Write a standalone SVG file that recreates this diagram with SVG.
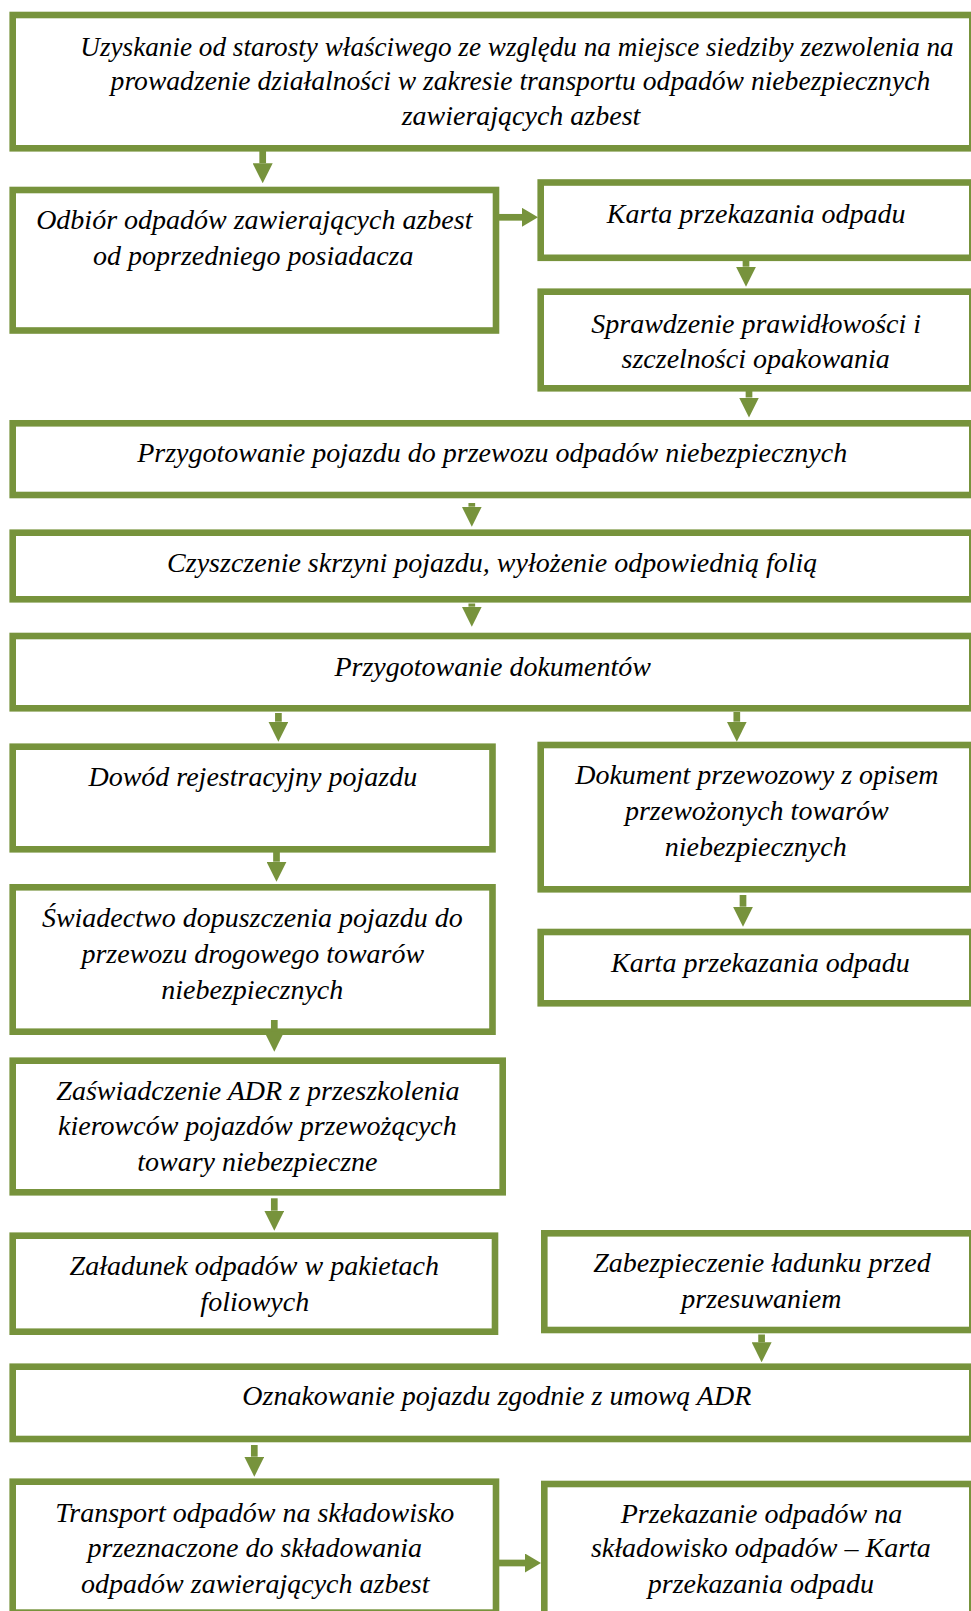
<svg xmlns="http://www.w3.org/2000/svg" width="971" height="1611" viewBox="0 0 971 1611">
  <style>
    .box { fill: #ffffff; stroke: #77933C; stroke-width: 6.6; }
    .lbl { font-family: "Liberation Serif", "Times New Roman", serif; font-style: italic; font-size: 28px; fill: #000000; text-anchor: middle; }
    .conn { stroke: #77933C; stroke-width: 6.7; fill: none; }
  </style>
  <defs>
    <marker id="head" markerUnits="userSpaceOnUse" markerWidth="20" markerHeight="20" refX="0" refY="10" orient="auto">
      <path d="M0,0 L20,10 L0,20 Z" fill="#77933C"/>
    </marker>
    <marker id="head-s" markerUnits="userSpaceOnUse" markerWidth="16" markerHeight="20" refX="0" refY="9.5" orient="auto">
      <path d="M0,0 L16,9.5 L0,19 Z" fill="#77933C"/>
    </marker>
  </defs>
  <rect width="971" height="1611" fill="#ffffff"/>

  <g id="n1">
    <rect class="box" x="12.7" y="15" width="959.6" height="133.3"/>
    <text class="lbl" x="517" y="55.5" style="font-size:27.2px">Uzyskanie od starosty właściwego ze względu na miejsce siedziby zezwolenia na</text>
    <text class="lbl" x="520.4" y="90" style="font-size:27.6px">prowadzenie działalności w zakresie transportu odpadów niebezpiecznych</text>
    <text class="lbl" x="521" y="125">zawierających azbest</text>
  </g>
  <g id="n2">
    <rect class="box" x="12.7" y="190" width="483.3" height="140.5"/>
    <text class="lbl" x="254.3" y="229.3">Odbiór odpadów zawierających azbest</text>
    <text class="lbl" x="253.3" y="265">od poprzedniego posiadacza</text>
  </g>
  <g id="n3">
    <rect class="box" x="540.7" y="182.5" width="431.6" height="75.3"/>
    <text class="lbl" x="756.2" y="222.7">Karta przekazania odpadu</text>
  </g>
  <g id="n4">
    <rect class="box" x="540.7" y="291.7" width="431.6" height="96.6"/>
    <text class="lbl" x="756.2" y="332.7">Sprawdzenie prawidłowości i</text>
    <text class="lbl" x="755.7" y="367.6">szczelności opakowania</text>
  </g>
  <g id="n5">
    <rect class="box" x="12.7" y="423.3" width="959.6" height="71.7"/>
    <text class="lbl" x="492.2" y="462.3">Przygotowanie pojazdu do przewozu odpadów niebezpiecznych</text>
  </g>
  <g id="n6">
    <rect class="box" x="12.7" y="532.7" width="959.6" height="66.6"/>
    <text class="lbl" x="492.2" y="572.1">Czyszczenie skrzyni pojazdu, wyłożenie odpowiednią folią</text>
  </g>
  <g id="n7">
    <rect class="box" x="12.7" y="636" width="959.6" height="72.3"/>
    <text class="lbl" x="492.7" y="675.8">Przygotowanie dokumentów</text>
  </g>
  <g id="n8">
    <rect class="box" x="12.7" y="746.7" width="479.8" height="102.6"/>
    <text class="lbl" x="252.8" y="785.8">Dowód rejestracyjny pojazdu</text>
  </g>
  <g id="n9">
    <rect class="box" x="540.7" y="745" width="431.6" height="144.3"/>
    <text class="lbl" x="756.8" y="783.7">Dokument przewozowy z opisem</text>
    <text class="lbl" x="756.8" y="819.7">przewożonych towarów</text>
    <text class="lbl" x="755.7" y="855.7">niebezpiecznych</text>
  </g>
  <g id="n10">
    <rect class="box" x="12.7" y="887.3" width="479.8" height="144.4"/>
    <text class="lbl" x="252.3" y="926.6">Świadectwo dopuszczenia pojazdu do</text>
    <text class="lbl" x="252.8" y="962.5">przewozu drogowego towarów</text>
    <text class="lbl" x="252.3" y="998.5">niebezpiecznych</text>
  </g>
  <g id="n11">
    <rect class="box" x="540.7" y="932" width="431.6" height="71.3"/>
    <text class="lbl" x="760.4" y="971.8">Karta przekazania odpadu</text>
  </g>
  <g id="n12">
    <rect class="box" x="12.7" y="1060.7" width="490" height="131.6"/>
    <text class="lbl" x="257.9" y="1100.2">Zaświadczenie ADR z przeszkolenia</text>
    <text class="lbl" x="257.4" y="1135.1">kierowców pojazdów przewożących</text>
    <text class="lbl" x="257.4" y="1171.1">towary niebezpieczne</text>
  </g>
  <g id="n13">
    <rect class="box" x="12.7" y="1235.7" width="482.3" height="96"/>
    <text class="lbl" x="254.3" y="1274.9">Załadunek odpadów w pakietach</text>
    <text class="lbl" x="254.8" y="1310.8">foliowych</text>
  </g>
  <g id="n14">
    <rect class="box" x="544.3" y="1233.3" width="428" height="96.7"/>
    <text class="lbl" x="761.9" y="1271.8">Zabezpieczenie ładunku przed</text>
    <text class="lbl" x="761.4" y="1307.8">przesuwaniem</text>
  </g>
  <g id="n15">
    <rect class="box" x="12.7" y="1366.7" width="959.6" height="72.3"/>
    <text class="lbl" x="496.8" y="1405.4">Oznakowanie pojazdu zgodnie z umową ADR</text>
  </g>
  <g id="n16">
    <rect class="box" x="12.7" y="1481.7" width="483.3" height="130.9"/>
    <text class="lbl" x="254.8" y="1521.5">Transport odpadów na składowisko</text>
    <text class="lbl" x="254.8" y="1557.4">przeznaczone do składowania</text>
    <text class="lbl" x="255.3" y="1593.4">odpadów zawierających azbest</text>
  </g>
  <g id="n17">
    <rect class="box" x="544.3" y="1484" width="428" height="132"/>
    <text class="lbl" x="761.4" y="1522.5">Przekazanie odpadów na</text>
    <text class="lbl" x="760.9" y="1557.4">składowisko odpadów – Karta</text>
    <text class="lbl" x="760.9" y="1593.4">przekazania odpadu</text>
  </g>

  <!-- connectors: each line stops where its arrowhead begins -->
  <g id="connectors" class="conn">
    <line x1="262.7" y1="150" x2="262.7" y2="163.3" marker-end="url(#head)"/>
    <line x1="499" y1="217.3" x2="522" y2="217.3" marker-end="url(#head-s)"/>
    <line x1="746" y1="260" x2="746" y2="266.7" marker-end="url(#head)"/>
    <line x1="749" y1="391" x2="749" y2="397.5" marker-end="url(#head)"/>
    <line x1="471.8" y1="503" x2="471.8" y2="506.7" marker-end="url(#head)"/>
    <line x1="471.8" y1="603.5" x2="471.8" y2="606.7" marker-end="url(#head)"/>
    <line x1="278.4" y1="713" x2="278.4" y2="721.7" marker-end="url(#head)"/>
    <line x1="736.8" y1="712" x2="736.8" y2="721.7" marker-end="url(#head)"/>
    <line x1="276.5" y1="852" x2="276.5" y2="861.7" marker-end="url(#head)"/>
    <line x1="743" y1="895" x2="743" y2="906.7" marker-end="url(#head)"/>
    <line x1="274.3" y1="1020" x2="274.3" y2="1031.7" marker-end="url(#head)"/>
    <line x1="274.3" y1="1198.3" x2="274.3" y2="1210.7" marker-end="url(#head)"/>
    <line x1="761.6" y1="1334.5" x2="761.6" y2="1342.3" marker-end="url(#head)"/>
    <line x1="254.3" y1="1445" x2="254.3" y2="1456.7" marker-end="url(#head)"/>
    <line x1="499" y1="1563" x2="525" y2="1563" marker-end="url(#head-s)"/>
  </g>
</svg>
